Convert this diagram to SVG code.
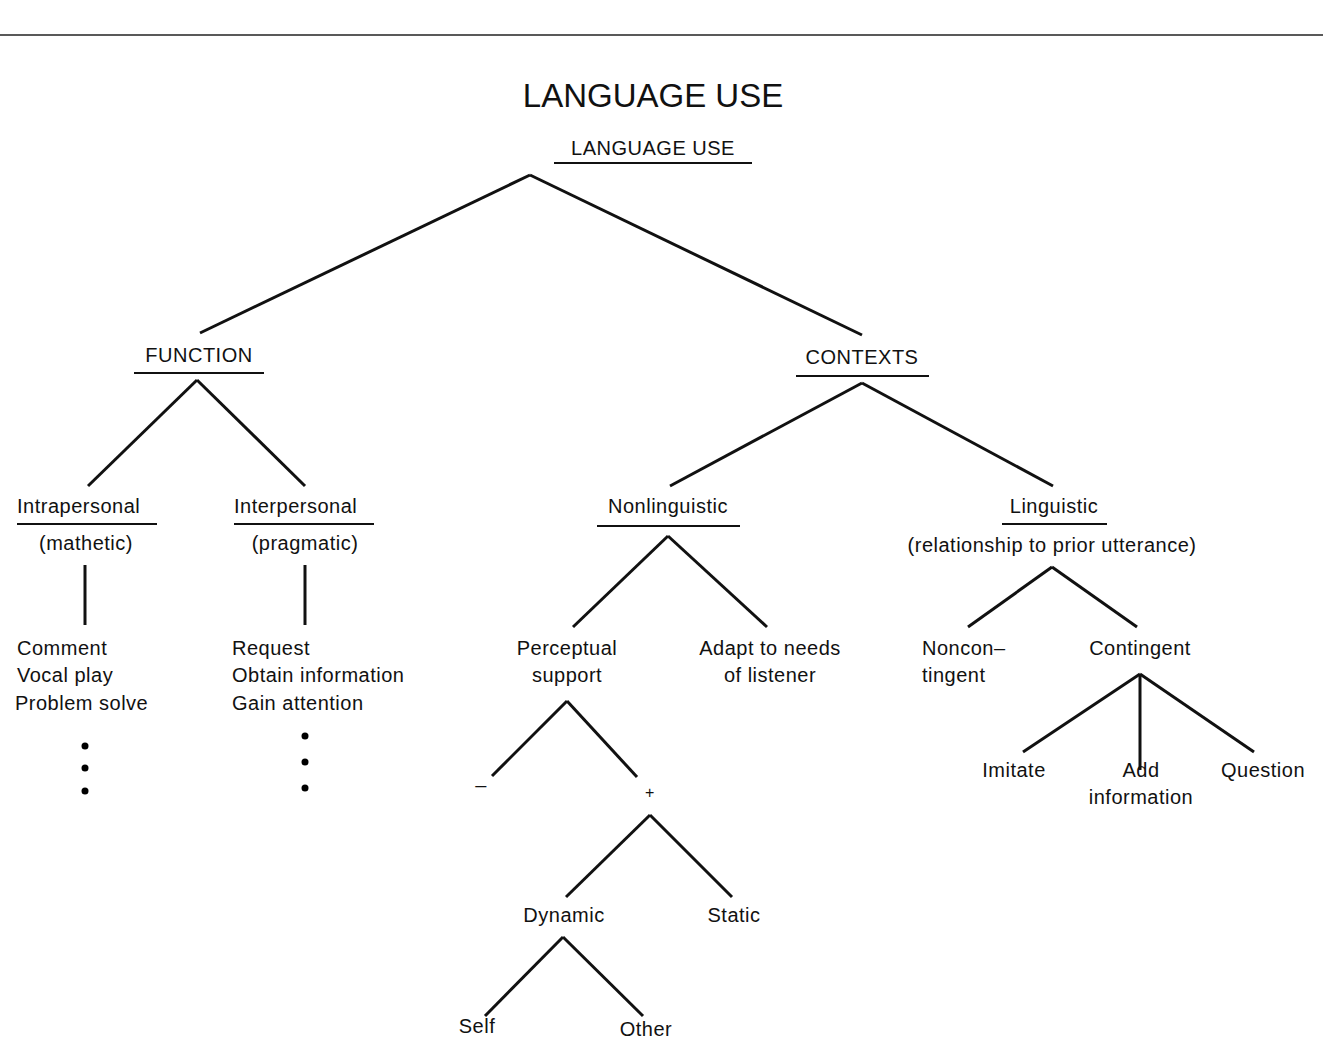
<svg xmlns="http://www.w3.org/2000/svg" width="1323" height="1063" viewBox="0 0 1323 1063">
<style>
text{font-family:"Liberation Sans",Arial,sans-serif;font-size:20px;fill:#111;letter-spacing:0.5px}
.m{text-anchor:middle}
.t{font-size:33px;letter-spacing:0}
.e line,.u{stroke:#111;stroke-width:3;fill:none}
.u{stroke-width:2}
</style>
<rect width="1323" height="1063" fill="#fff"/>
<line x1="0" y1="35" x2="1323" y2="35" stroke="#222" stroke-width="1.5"/>
<text class="t m" x="653" y="107">LANGUAGE USE</text>
<g id="root"><text class="m" x="653" y="155">LANGUAGE USE</text><line class="u" x1="554" y1="163" x2="752" y2="163"/></g>
<g id="function"><text class="m" x="199" y="362">FUNCTION</text><line class="u" x1="134" y1="373" x2="264" y2="373"/></g>
<g id="contexts"><text class="m" x="862" y="364">CONTEXTS</text><line class="u" x1="796" y1="376" x2="929" y2="376"/></g>
<g id="intra"><text x="17" y="513">Intrapersonal</text><line class="u" x1="17" y1="524" x2="157" y2="524"/><text class="m" x="86" y="550">(mathetic)</text></g>
<g id="inter"><text x="234" y="513">Interpersonal</text><line class="u" x1="234" y1="524" x2="374" y2="524"/><text class="m" x="305" y="550">(pragmatic)</text></g>
<g id="intraList"><text x="17" y="655">Comment</text><text x="17" y="682">Vocal play</text><text x="15" y="710">Problem solve</text>
<circle cx="85" cy="746" r="3.5"/><circle cx="85" cy="768" r="3.5"/><circle cx="85" cy="791" r="3.5"/></g>
<g id="interList"><text x="232" y="655">Request</text><text x="232" y="682">Obtain information</text><text x="232" y="710">Gain attention</text>
<circle cx="305" cy="736" r="3.5"/><circle cx="305" cy="762" r="3.5"/><circle cx="305" cy="788" r="3.5"/></g>
<g id="nonling"><text class="m" x="668" y="513">Nonlinguistic</text><line class="u" x1="597" y1="526" x2="740" y2="526"/></g>
<g id="ling"><text class="m" x="1054" y="513">Linguistic</text><line class="u" x1="1002" y1="524" x2="1107" y2="524"/><text class="m" x="1052" y="552">(relationship to prior utterance)</text></g>
<g id="perc"><text class="m" x="567" y="655">Perceptual</text><text class="m" x="567" y="682">support</text></g>
<g id="adapt"><text class="m" x="770" y="655">Adapt to needs</text><text class="m" x="770" y="682">of listener</text></g>
<g id="noncon"><text x="922" y="655">Noncon–</text><text x="922" y="682">tingent</text></g>
<g id="contingent"><text class="m" x="1140" y="655">Contingent</text></g>
<g id="imitate"><text class="m" x="1014" y="777">Imitate</text></g>
<g id="add"><text class="m" x="1141" y="777">Add</text><text class="m" x="1141" y="804">information</text></g>
<g id="question"><text class="m" x="1263" y="777">Question</text></g>
<g id="minus"><text class="m" x="481" y="792">–</text></g>
<g id="plus"><text class="m" x="650" y="798" style="font-size:16px">+</text></g>
<g id="dynamic"><text class="m" x="564" y="922">Dynamic</text></g>
<g id="static"><text class="m" x="734" y="922">Static</text></g>
<g id="self"><text class="m" x="477" y="1033">Self</text></g>
<g id="other"><text class="m" x="646" y="1036">Other</text></g>
<g id="edges" class="e">
<line x1="530" y1="175" x2="200" y2="333"/><line x1="530" y1="175" x2="862" y2="335"/>
<line x1="197" y1="380" x2="88" y2="486"/><line x1="197" y1="380" x2="305" y2="486"/>
<line x1="862" y1="383" x2="670" y2="486"/><line x1="862" y1="383" x2="1053" y2="486"/>
<line x1="85" y1="565" x2="85" y2="625"/><line x1="305" y1="565" x2="305" y2="625"/>
<line x1="668" y1="536" x2="573" y2="627"/><line x1="668" y1="536" x2="767" y2="627"/>
<line x1="1052" y1="567" x2="968" y2="627"/><line x1="1052" y1="567" x2="1137" y2="627"/>
<line x1="1140" y1="674" x2="1023" y2="752"/><line x1="1140" y1="674" x2="1140" y2="770"/><line x1="1140" y1="674" x2="1254" y2="752"/>
<line x1="567" y1="701" x2="492" y2="776"/><line x1="567" y1="701" x2="637" y2="777"/>
<line x1="650" y1="815" x2="566" y2="897"/><line x1="650" y1="815" x2="732" y2="897"/>
<line x1="563" y1="937" x2="485" y2="1016"/><line x1="563" y1="937" x2="643" y2="1016"/>
</g>
</svg>
